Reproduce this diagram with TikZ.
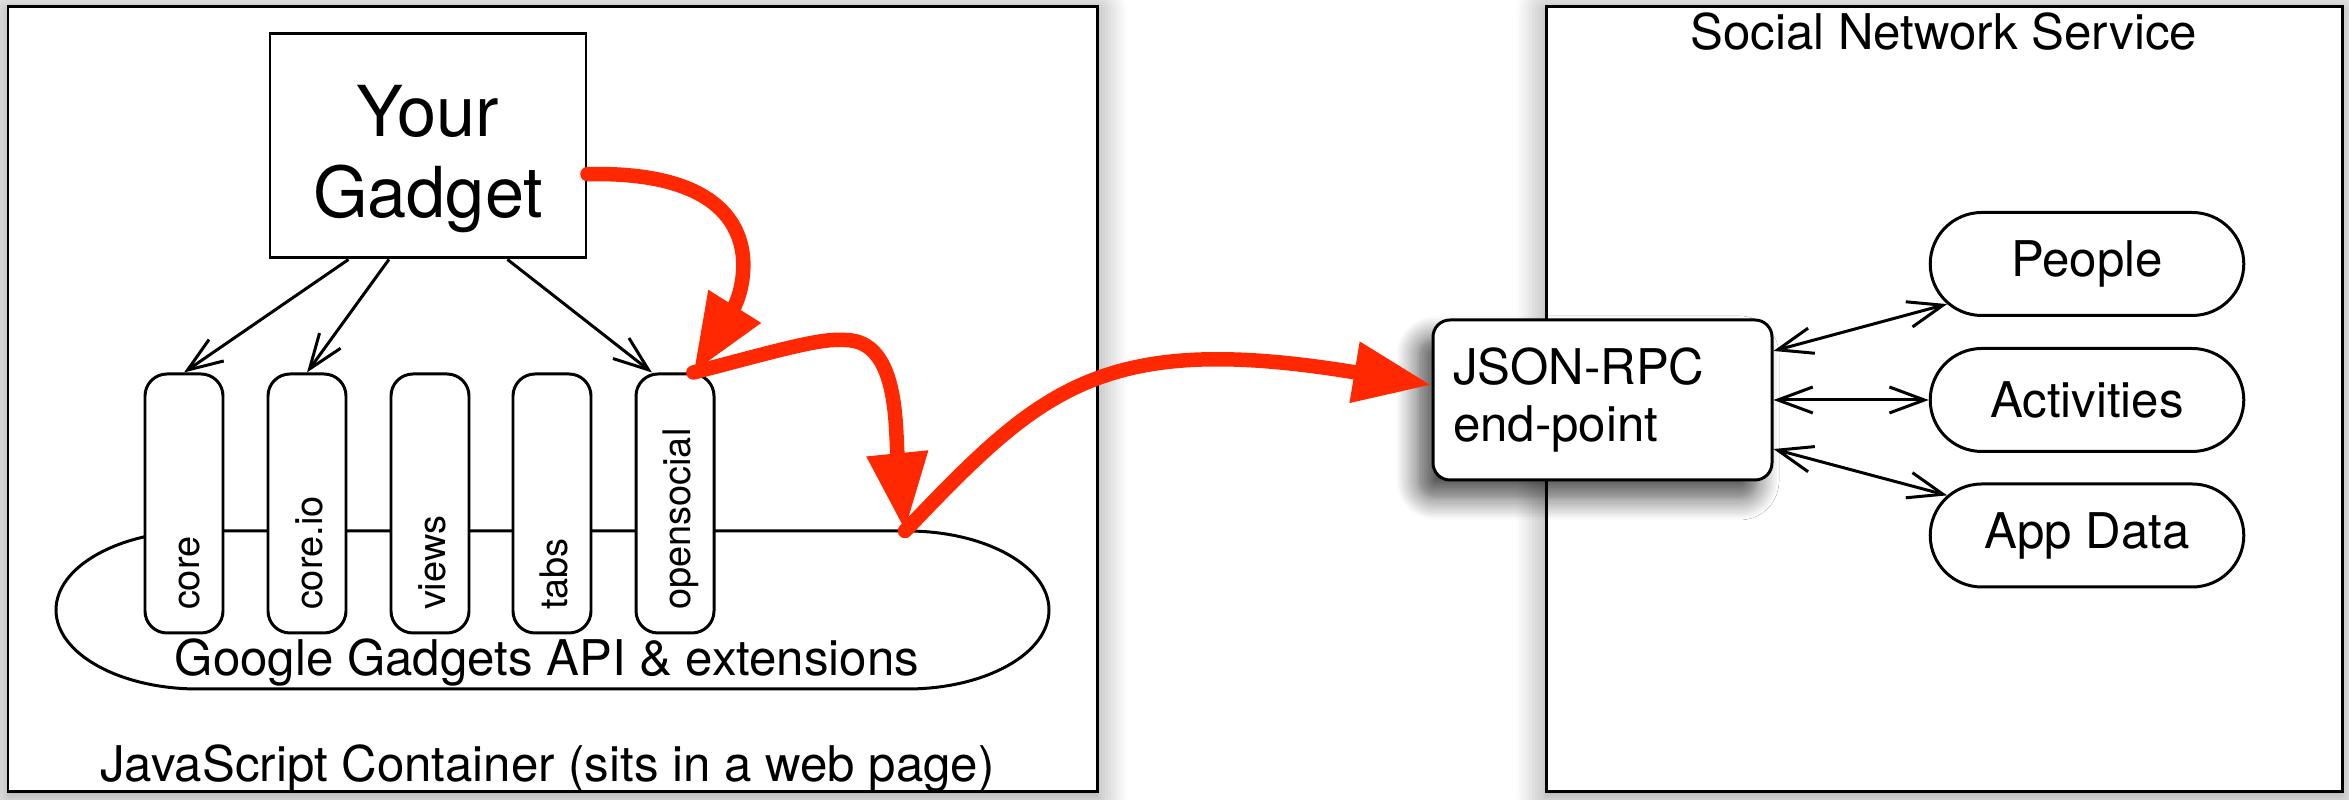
\documentclass[tikz,border=0pt]{standalone}
\usepackage{fontspec}
\setmainfont{TeX Gyre Heros}
\usepackage{xcolor}
\usepackage{tikz}
\usetikzlibrary{arrows.meta,shapes.misc,shadows.blur}
\definecolor{flowred}{RGB}{255,40,0}

\begin{document}
\begin{tikzpicture}[line width=0.85pt,
	>={Straight Barb[length=3.5mm, width=2.6mm]},
	container/.style={draw=black, fill=white, blur shadow={shadow xshift=0cm, shadow yshift=-0.04cm, shadow blur radius=0.3cm, shadow blur steps=10, shadow opacity=45}},
	feature/.style={draw=black, fill=white, rounded corners=0.22cm, rotate=90, minimum width=2.59cm, minimum height=0.78cm, text width=2.13cm, inner xsep=0.23cm, align=left, text height=0.38cm, text depth=0.08cm, font=\fontsize{10.8}{12}\selectfont},
	store/.style={draw=black, fill=white, rounded rectangle, minimum width=3.37cm, minimum height=1.03cm, font=\fontsize{14}{16}\selectfont},
	flow/.style={flowred, line width=0.145cm, line cap=round, -{Triangle[length=0.78cm, width=0.58cm]}}]
					\useasboundingbox (0, 0) rectangle (23.49, 8);
					% the two containers
					\draw (5.525, 4.005) node[container, minimum width=10.89cm, minimum height=7.85cm] (jsbox) {};
					\draw (19.44, 4.005) node[container, minimum width=7.96cm, minimum height=7.85cm] (snsbox) {};
					\draw (5.475, 0.18) node[anchor=base, font=\fontsize{14}{16}\selectfont] (jslabel) {JavaScript Container (sits in a web page)};
					\draw (19.44, 7.505) node[anchor=base, font=\fontsize{14}{16}\selectfont] (snslabel) {Social Network Service};
					% gadgets API
					\draw[fill=white] (1.98, 2.69) -- (9.07, 2.69) arc[start angle=90, end angle=-90, x radius=1.42, y radius=0.79] -- (1.98, 1.11) arc[start angle=270, end angle=90, x radius=1.42, y radius=0.79] -- cycle;
					\draw (5.47, 1.24) node[anchor=base, font=\fontsize{14}{16}\selectfont] (api) {Google Gadgets API \& extensions};
					\coordinate (apitop) at (9.05, 2.69);
					\draw (1.84, 2.965) node[feature] (core) {core};
					\draw (3.07, 2.965) node[feature] (coreio) {core.io};
					\draw (4.30, 2.965) node[feature] (views) {views};
					\draw (5.52, 2.965) node[feature] (tabs) {tabs};
					\draw (6.75, 2.965) node[feature] (opensocial) {opensocial};
					\draw (4.28, 6.54) node[draw=black, fill=white, minimum width=3.16cm, minimum height=2.24cm, align=center, text height=1.59cm, font=\fontsize{20}{23.2}\selectfont] (gadget) {Your\\Gadget};
					\draw[->] (gadget.235) -- (core.east);
					\draw[->] (gadget.251) -- (coreio.east);
					\draw[->] (gadget.305) -- (opensocial.10);
					% social network side
					\draw (16.025, 4.00) node[draw=black, fill=white, rounded corners=0.17cm, minimum width=3.39cm, minimum height=1.6cm, text width=2.99cm, inner xsep=0.2cm, align=left, font=\fontsize{14}{16.2}\selectfont, blur shadow={shadow xshift=-0.15cm, shadow yshift=-0.18cm, shadow blur radius=0.22cm, shadow blur steps=10, shadow opacity=70}] (json) {JSON-RPC\\end-point};
					\draw (20.87, 5.36) node[store] (people) {People};
					\draw (20.87, 4.00) node[store] (activities) {Activities};
					\draw (20.87, 2.645) node[store] (appdata) {App Data};
					\draw[<->] (json.16) -- (people.196);
					\draw[<->] (json.east) -- (activities.west);
					\draw[<->] (json.-16) -- (appdata.164);
					% the call path
					\draw[flow] (gadget.-10) .. controls (7.8, 6.3) and (7.45, 5.1) .. (opensocial.-8);
					\draw[flow] (opensocial.-8) .. controls (7.8, 4.5) and (8.2, 4.62) .. (8.45, 4.6) .. controls (9.0, 4.6) and (8.95, 3.7) .. (apitop);
					\draw[flow] (apitop) .. controls (10.4, 4.1) and (11.0, 4.7) .. (json.175);
				\end{tikzpicture}
\end{document}
